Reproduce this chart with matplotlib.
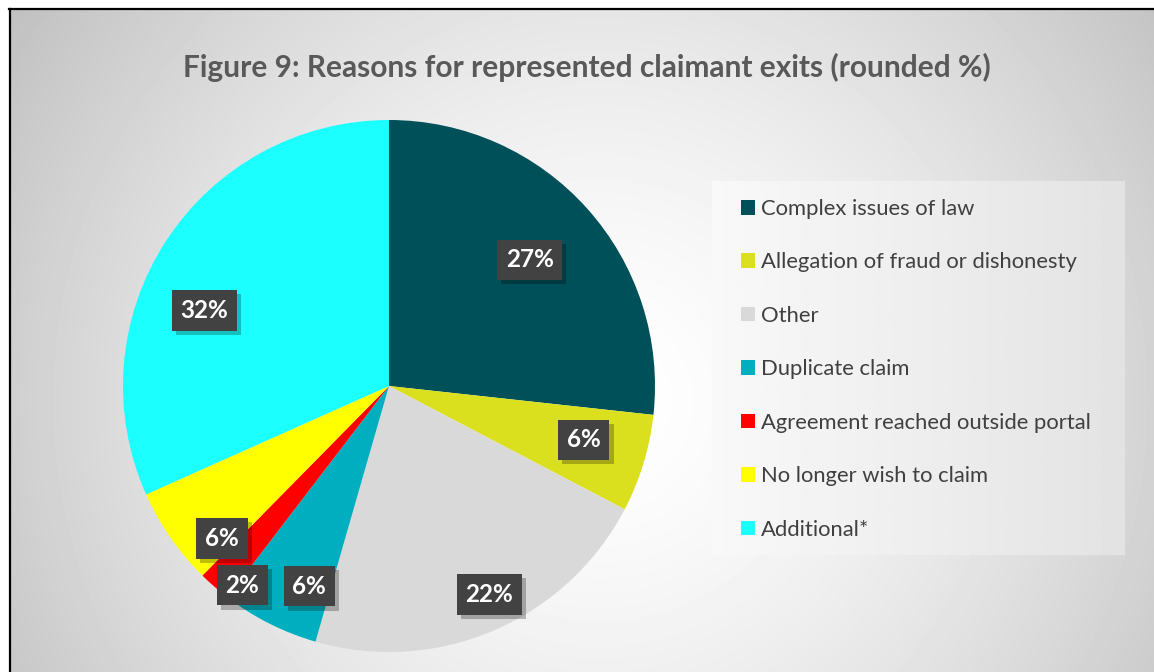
import numpy as np
import matplotlib.pyplot as plt
from matplotlib import patheffects

plt.rcParams['font.family'] = ['Lato', 'DejaVu Sans']

# data
reasons = ['Complex issues of law', 'Allegation of fraud or dishonesty', 'Other',
           'Duplicate claim', 'Agreement reached outside portal',
           'No longer wish to claim', 'Additional*']
shares = [27, 6, 22, 6, 2, 6, 32]
colors = ['#00505A', '#DBE01E', '#D9D9D9', '#00AFBF', '#FF0000', '#FFFF00', '#1CFFFF']

# label layout (radius as fraction of pie radius, clockwise shift in degrees)
label_r = [0.71, 0.76, 0.87, 0.81, 0.93, 0.85, 0.75]
label_shift = [0, -1.5, -2.5, -5, -4.6, -7.6, -10.7]

W, H = 1154, 672
fig = plt.figure(figsize=(W / 100, H / 100), dpi=100)

# background with radial gradient and frame
bg = fig.add_axes([0, 0, 1, 1])
yy, xx = np.mgrid[0:H, 0:W]
d = np.hypot(xx - 600, yy - 400) / 700
shade = np.clip(255 - 62 * d ** 1.5, 190, 255) / 255
bg.imshow(shade, cmap='gray', vmin=0, vmax=1, extent=(0, W, H, 0), aspect='auto')
bg.fill_between([0, W], 0, 8, color='white', lw=0)
bg.fill_betweenx([0, H], 0, 9, color='white', lw=0)
bg.plot([9, W], [9, 9], color='black', lw=1.6)
bg.plot([10, 10], [9, H], color='black', lw=1.6)
bg.set_xlim(0, W)
bg.set_ylim(H, 0)
bg.axis('off')

fig.text(587 / W, 1 - 67 / H, 'Figure 9: Reasons for represented claimant exits (rounded %)',
         ha='center', va='center', fontsize=21.5, fontweight='bold', color='#595959')

# pie
cx, cy, R = 389, 386, 266
ax = fig.add_axes([(cx - R) / W, (H - cy - R) / H, 2 * R / W, 2 * R / H])
wedges, _ = ax.pie(shares, colors=colors, startangle=90, counterclock=False,
                   radius=1, wedgeprops=dict(linewidth=0))
ax.set_xlim(-1, 1)
ax.set_ylim(-1, 1)
ax.axis('off')

for w, v, r, s in zip(wedges, shares, label_r, label_shift):
    mid = np.deg2rad((w.theta1 + w.theta2) / 2 - s)
    x, y = r * np.cos(mid), r * np.sin(mid)
    t = ax.text(x, y, f'{v}%', ha='center', va='center', fontsize=17.5,
                fontweight='bold', color='white',
                bbox=dict(boxstyle='square,pad=0.36', facecolor='#424242', lw=0))
    t.get_bbox_patch().set_path_effects(
        [patheffects.withSimplePatchShadow(offset=(3, -3), shadow_rgbFace='black', alpha=0.25)])

# legend panel
lx0, ly0, lx1, ly1 = 712, 181, 1125, 555
lax = fig.add_axes([lx0 / W, 1 - ly1 / H, (lx1 - lx0) / W, (ly1 - ly0) / H])
grad = np.linspace(0.975, 0.89, 200)[None, :]
lax.imshow(np.repeat(grad, 10, axis=0), cmap='gray', vmin=0, vmax=1,
           extent=(0, 1, 0, 1), aspect='auto')
lax.axis('off')
fig.legend(wedges, reasons, loc='upper left',
           bbox_to_anchor=(741 / W, 1 - 199 / H), frameon=False,
           fontsize=15.8, labelcolor='#404040', handlelength=0.64, handleheight=0.64,
           handletextpad=0.25, labelspacing=1.525, borderpad=0, borderaxespad=0)

fig.savefig('out.png', dpi=100)
